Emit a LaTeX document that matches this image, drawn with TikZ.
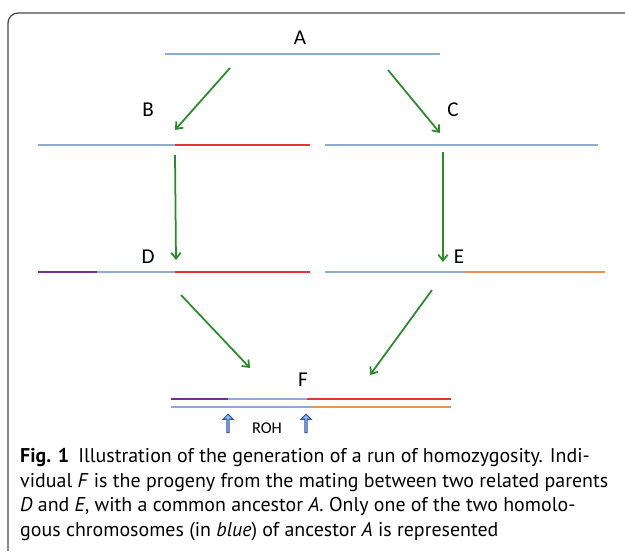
\documentclass[tikz,border=0pt]{standalone}
\usepackage{fontspec}
\setmainfont{PT Sans}
\newfontfamily\labelfont{Carlito}
\usetikzlibrary{arrows.meta,positioning,shapes.arrows}
\definecolor{ChromBlue}{RGB}{140,172,212}
\definecolor{ChromRed}{RGB}{232,52,48}
\definecolor{ChromPurple}{RGB}{112,48,140}
\definecolor{ChromOrange}{RGB}{230,150,80}
\definecolor{ArrowGreen}{RGB}{40,140,40}
\definecolor{RohBlue}{RGB}{45,85,180}
\definecolor{RohFill}{RGB}{150,185,235}
\tikzset{
  gen/.style={font=\labelfont\fontsize{18}{20}\selectfont,inner sep=0pt},
  chrom/.style={line width=2.5pt},
  arrow/.style={-{Straight Barb[length=5pt,width=8pt]},line width=1.5pt,ArrowGreen},
  rohmark/.style={single arrow,draw=RohBlue,fill=RohFill,shape border rotate=90,
    minimum height=0.55cm,minimum width=0.3cm,single arrow head extend=0.05cm,
    inner sep=0pt,line width=0.9pt},
  caption/.style={anchor=north west,align=left,inner sep=0pt,
    font=\fontsize{17}{21}\selectfont}
}

\begin{document}
\begin{tikzpicture}[x=0.03cm,y=-0.03cm]
\useasboundingbox (0,0) rectangle (625,551);
% frame
\draw[black!70,line width=1.1pt,rounded corners=0.3cm] (625,13) -- (8,13) -- (8,551);

% generation labels
\node[gen] (A) at (300,38) {A};
\node[gen] (B) at (148,110) {B};
\node[gen] (C) at (453,110) {C};
\node[gen] (D) at (148,257) {D};
\node[gen] (E) at (459,257) {E};
\node[gen] (F) at (303,380) {F};

% chromosomes
\draw[chrom,ChromBlue] (165,54) -- (440,54);
\draw[chrom,ChromBlue] (38,145) -- (175,145);
\draw[chrom,ChromRed] (175,145) -- (310,145);
\draw[chrom,ChromBlue] (325,145) -- (598,145);
\draw[chrom,ChromPurple] (38,272) -- (97,272);
\draw[chrom,ChromBlue] (97,272) -- (175,272);
\draw[chrom,ChromRed] (175,272) -- (310,272);
\draw[chrom,ChromBlue] (325,272) -- (465,272);
\draw[chrom,ChromOrange] (465,272) -- (605,272);
\draw[chrom,ChromPurple] (171,399) -- (228,399);
\draw[chrom,ChromBlue] (228,399) -- (307,399);
\draw[chrom,ChromRed] (307,399) -- (451,399);
\draw[chrom,ChromBlue] (171,407) -- (310,407);
\draw[chrom,ChromOrange] (310,407) -- (451,407);

% descent
\coordinate (AB0) at (230,68);  \coordinate (AB1) at (175,130);
\coordinate (AC0) at (388,70);  \coordinate (AC1) at (440,133);
\coordinate (BD0) at (175,155); \coordinate (BD1) at (176,260);
\coordinate (CE0) at (443,152); \coordinate (CE1) at (443,262);
\coordinate (DF0) at (181,295); \coordinate (DF1) at (250,368);
\coordinate (EF0) at (432,290); \coordinate (EF1) at (370,375);
\draw[arrow] (AB0) -- (AB1);
\draw[arrow] (AC0) -- (AC1);
\draw[arrow] (BD0) -- (BD1);
\draw[arrow] (CE0) -- (CE1);
\draw[arrow] (DF0) -- (DF1);
\draw[arrow] (EF0) -- (EF1);

% run of homozygosity
\node[rohmark] (roh1) at (228,424) {};
\node[rohmark] (roh2) at (306,424) {};
\node[font=\labelfont\fontsize{14}{16}\selectfont,inner sep=0pt] (roh) at (267,428) {ROH};

\node[caption] (cap) at (20,448) {\textbf{Fig. 1}\hspace{0.45em}Illustration of the generation of a run of homozygosity. Indi-\\
vidual \textit{F} is the progeny from the mating between two related parents\\
\textit{D} and \textit{E}, with a common ancestor \textit{A}. Only one of the two homolo-\\
gous chromosomes (in \textit{blue}) of ancestor \textit{A} is represented};
\end{tikzpicture}
\end{document}
